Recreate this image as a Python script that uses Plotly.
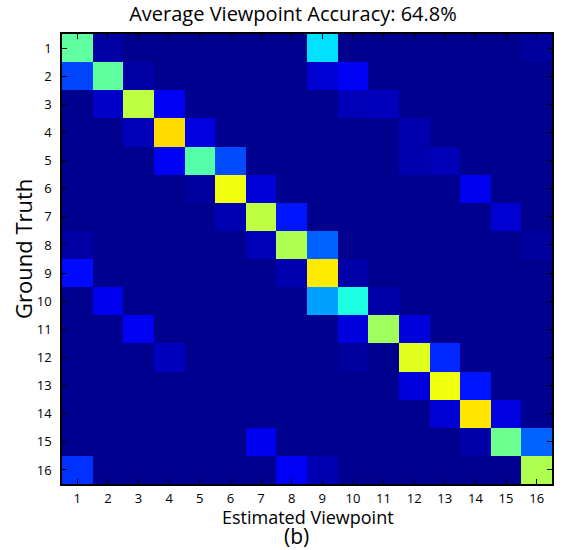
import plotly.graph_objects as go

# Viewpoint categories (estimated = columns, ground truth = rows)
viewpoints = [1, 2, 3, 4, 5, 6, 7, 8, 9, 10, 11, 12, 13, 14, 15, 16]
tick_labels = ["1", "2", "3", "4", "5", "6", "7", "8", "9", "10", "11", "12", "13", "14", "15", "16"]

# Confusion matrix rows (ground truth viewpoint), values
gt_1  = [0.461, 0.022, 0, 0, 0, 0, 0, 0, 0.335, 0, 0, 0, 0, 0, 0, 0.018]
gt_2  = [0.181, 0.461, 0.022, 0, 0, 0, 0, 0, 0.066, 0.101, 0, 0, 0, 0, 0, 0]
gt_3  = [0, 0.058, 0.554, 0.101, 0, 0, 0, 0, 0, 0.041, 0.046, 0, 0, 0, 0, 0]
gt_4  = [0, 0, 0.041, 0.654, 0.081, 0, 0, 0, 0, 0, 0, 0.031, 0, 0, 0, 0]
gt_5  = [0, 0, 0, 0.101, 0.450, 0.186, 0, 0, 0, 0, 0, 0.031, 0.041, 0, 0, 0]
gt_6  = [0, 0, 0, 0, 0.016, 0.604, 0.071, 0, 0, 0, 0, 0, 0, 0.096, 0, 0]
gt_7  = [0, 0, 0, 0, 0, 0.036, 0.554, 0.131, 0, 0, 0, 0, 0, 0, 0.066, 0]
gt_8  = [0.022, 0, 0, 0, 0, 0, 0.041, 0.539, 0.210, 0, 0, 0, 0, 0, 0, 0.018]
gt_9  = [0.121, 0, 0, 0, 0, 0, 0, 0.031, 0.639, 0.026, 0, 0, 0, 0, 0, 0]
gt_10 = [0, 0.096, 0, 0, 0, 0, 0, 0, 0.270, 0.395, 0.026, 0, 0, 0, 0, 0]
gt_11 = [0, 0, 0.101, 0, 0, 0, 0, 0, 0, 0.076, 0.524, 0.076, 0, 0, 0, 0]
gt_12 = [0, 0, 0, 0.046, 0, 0, 0, 0, 0, 0.016, 0, 0.589, 0.151, 0, 0, 0]
gt_13 = [0, 0, 0, 0, 0, 0, 0, 0, 0, 0, 0, 0.076, 0.604, 0.131, 0, 0]
gt_14 = [0, 0, 0, 0, 0, 0, 0, 0, 0, 0, 0, 0, 0.066, 0.644, 0.081, 0]
gt_15 = [0, 0, 0, 0, 0, 0, 0.096, 0, 0, 0, 0, 0, 0, 0.026, 0.475, 0.210]
gt_16 = [0.161, 0, 0, 0, 0, 0, 0, 0.101, 0.036, 0, 0, 0, 0, 0, 0, 0.539]

confusion = [gt_1, gt_2, gt_3, gt_4, gt_5, gt_6, gt_7, gt_8,
             gt_9, gt_10, gt_11, gt_12, gt_13, gt_14, gt_15, gt_16]

title_text = "Average Viewpoint Accuracy: 64.8%"

# MATLAB jet(64)
jet = [
    [0.0, "rgb(0,0,143)"],
    [7 / 63, "rgb(0,0,255)"],
    [23 / 63, "rgb(0,255,255)"],
    [39 / 63, "rgb(255,255,0)"],
    [55 / 63, "rgb(255,0,0)"],
    [1.0, "rgb(128,0,0)"],
]

FONT = "Open Sans"

fig = go.Figure(
    go.Heatmap(
        z=confusion,
        x=viewpoints,
        y=viewpoints,
        colorscale=jet,
        zmin=0,
        zmax=1,
        showscale=False,
        hoverinfo="skip",
    )
)

axis_common = dict(
    tickmode="array",
    tickvals=viewpoints,
    ticktext=tick_labels,
    ticks="inside",
    ticklen=5,
    tickwidth=1,
    tickcolor="black",
    showline=True,
    linecolor="black",
    linewidth=1.5,
    mirror="allticks",
    showgrid=False,
    zeroline=False,
    tickfont=dict(family=FONT, size=13, color="black"),
)

fig.update_xaxes(range=[0.5, 16.5], ticklabelstandoff=2, **axis_common)
fig.update_yaxes(range=[16.5, 0.5], ticklabelstandoff=6, **axis_common)

L, R, T, B = 62, 552, 34, 484
PW, PH = R - L, B - T

fig.update_layout(
    width=586,
    height=550,
    margin=dict(l=L, r=586 - R, t=T, b=550 - B),
    paper_bgcolor="white",
    plot_bgcolor="white",
    font=dict(family=FONT, color="black"),
    title=dict(
        text=title_text,
        x=293 / 586,
        xanchor="center",
        xref="container",
        y=1 - 14 / 550,
        yanchor="middle",
        yref="container",
        font=dict(family=FONT, size=20, color="black"),
    ),
    annotations=[
        dict(
            text="Estimated Viewpoint",
            xref="paper", yref="paper",
            x=(308 - L) / PW, y=(B - 517) / PH,
            xanchor="center", yanchor="middle",
            showarrow=False,
            font=dict(family=FONT, size=18, color="black"),
        ),
        dict(
            text="Ground Truth",
            xref="paper", yref="paper",
            x=(23 - L) / PW, y=(B - 249) / PH,
            xanchor="center", yanchor="middle",
            textangle=-90,
            showarrow=False,
            font=dict(family=FONT, size=22, color="black"),
        ),
        dict(
            text="(b)",
            xref="paper", yref="paper",
            x=(296 - L) / PW, y=(B - 535.5) / PH,
            xanchor="center", yanchor="middle",
            showarrow=False,
            font=dict(family=FONT, size=21, color="black"),
        ),
    ],
)

fig.write_html("out.html")
